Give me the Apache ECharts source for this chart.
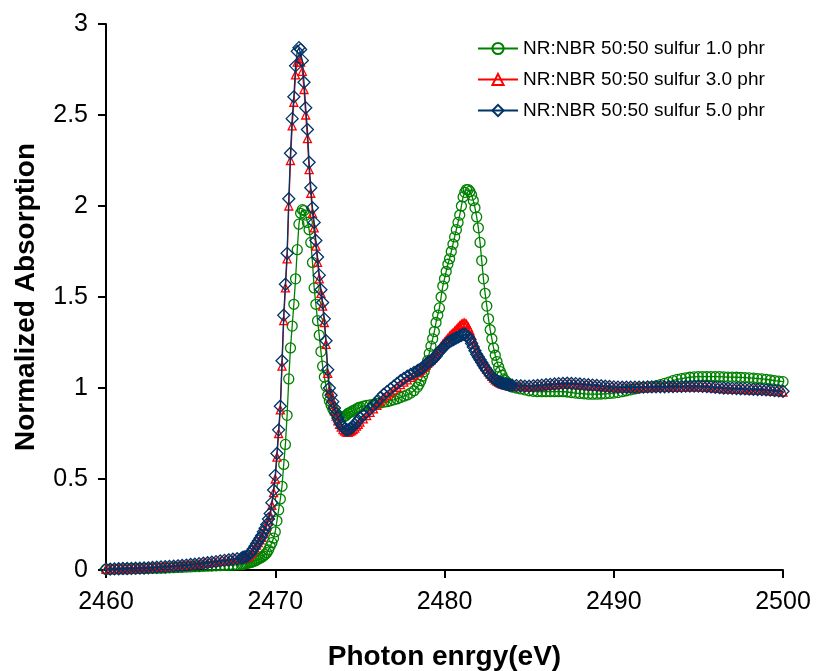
<!DOCTYPE html>
<html><head><meta charset="utf-8">
<script src="https://cdn.jsdelivr.net/npm/echarts@6/dist/echarts.min.js"></script>
<style>html,body{margin:0;padding:0;background:#fff}#chart{width:818px;height:671px}</style>
</head><body><div id="chart"></div>
<script>
// Photon energy grid (eV), pieces with different step sizes
const energyA = [2460,2460.25,2460.5,2460.75,2461,2461.25,2461.5,2461.75,2462,2462.25,2462.5,2462.75,2463,2463.25,2463.5,2463.75,2464,2464.25,2464.5,2464.75,2465,2465.25,2465.5,2465.75,2466,2466.25,2466.5,2466.75,2467,2467.25,2467.5,2467.75];
const energyB = [2468,2468.1,2468.2,2468.3,2468.4,2468.5,2468.6,2468.7,2468.8,2468.9,
  2469,2469.1,2469.2,2469.3,2469.4,2469.5,2469.6,2469.7,2469.8,2469.9,
  2470,2470.1,2470.2,2470.3,2470.4,2470.5,2470.6,2470.7,2470.8,2470.9,
  2471,2471.1,2471.2,2471.3,2471.4,2471.5,2471.6,2471.7,2471.8,2471.9,
  2472,2472.1,2472.2,2472.3,2472.4,2472.5,2472.6,2472.7,2472.8,2472.9,
  2473,2473.1,2473.2,2473.3,2473.4,2473.5,2473.6,2473.7,2473.8,2473.9,
  2474,2474.1,2474.2,2474.3,2474.4,2474.5,2474.6,2474.7,2474.8,2474.9];
const energyC = [2475,2475.2,2475.4,2475.6,2475.8,2476,2476.2,2476.4,2476.6,2476.8,2477,2477.2,2477.4,2477.6,2477.8,2478,2478.2,2478.4];
const energyD = [2478.5,2478.6,2478.7,2478.8,2478.9,2479,2479.1,2479.2,2479.3,2479.4,
  2479.5,2479.6,2479.7,2479.8,2479.9,2480,2480.1,2480.2,2480.3,2480.4,
  2480.5,2480.6,2480.7,2480.8,2480.9,2481,2481.1,2481.2,2481.3,2481.4,
  2481.5,2481.6,2481.7,2481.8,2481.9,2482,2482.1,2482.2,2482.3,2482.4,
  2482.5,2482.6,2482.7,2482.8,2482.9,2483,2483.1,2483.2,2483.3,2483.4,
  2483.5,2483.6,2483.7,2483.8,2483.9,2484];
const energyE = [2484.25,2484.5,2484.75,2485,2485.25,2485.5,2485.75,2486,2486.25,2486.5,
  2486.75,2487,2487.25,2487.5,2487.75,2488,2488.25,2488.5,2488.75,2489,
  2489.25,2489.5,2489.75,2490,2490.25,2490.5,2490.75,2491,2491.25,2491.5,
  2491.75,2492,2492.25,2492.5,2492.75,2493,2493.25,2493.5,2493.75,2494,
  2494.25,2494.5,2494.75,2495,2495.25,2495.5,2495.75,2496,2496.25,2496.5,
  2496.75,2497,2497.25,2497.5,2497.75,2498,2498.25,2498.5,2498.75,2499,
  2499.25,2499.5,2499.75,2500];
const energy = energyA.concat(energyB, energyC, energyD, energyE);

// NR:NBR 50:50 sulfur 1.0 phr
const sulfur1 = [
  0.004,0.004,0.005,0.005,0.006,0.006,0.007,0.007,0.008,0.008,0.009,0.009,0.01,0.01,0.011,0.012,0.013,0.014,0.015,0.016,0.017,0.018,0.019,0.02,0.021,0.022,0.023,0.024,0.025,0.026,0.027,0.028,
  0.03,0.032,0.034,0.036,0.038,0.04,0.043,0.046,0.05,0.055,
  0.06,0.065,0.07,0.077,0.085,0.095,0.11,0.13,0.15,0.175,
  0.21,0.27,0.33,0.39,0.46,0.58,0.69,0.85,1.05,1.22,
  1.34,1.46,1.6,1.76,1.9,1.96,1.98,1.975,1.95,1.91,
  1.87,1.8,1.69,1.55,1.46,1.37,1.29,1.2,1.12,1.06,
  1.01,0.96,0.93,0.905,0.885,0.87,0.86,0.85,0.845,0.84,
  0.84,0.845,0.85,0.86,0.865,0.87,0.875,0.88,0.885,0.89,
  0.895,0.9,0.905,0.907,0.91,0.915,0.918,0.922,0.925,0.93,0.935,0.94,0.948,0.955,0.962,0.972,0.985,1.005,
  1.02,1.04,1.065,1.09,1.12,1.15,1.19,1.23,1.27,1.31,
  1.36,1.4,1.44,1.5,1.56,1.6,1.64,1.68,1.71,1.75,
  1.79,1.83,1.87,1.91,1.95,2.0,2.05,2.075,2.09,2.09,
  2.08,2.06,2.03,1.99,1.94,1.88,1.8,1.7,1.6,1.52,
  1.45,1.38,1.32,1.27,1.22,1.18,1.145,1.115,1.09,1.07,
  1.05,1.04,1.03,1.02,1.01,1.005,
  1.0,0.995,0.99,0.985,0.982,0.98,0.98,0.98,0.98,0.98,
  0.98,0.98,0.978,0.975,0.972,0.97,0.968,0.966,0.966,0.966,
  0.967,0.968,0.97,0.972,0.975,0.98,0.985,0.99,0.995,1.0,
  1.003,1.006,1.008,1.012,1.018,1.025,1.032,1.04,1.047,1.052,
  1.056,1.059,1.061,1.062,1.063,1.063,1.063,1.062,1.062,1.061,
  1.06,1.06,1.059,1.058,1.057,1.056,1.054,1.052,1.05,1.047,
  1.044,1.041,1.038,1.035];

// NR:NBR 50:50 sulfur 3.0 phr
const sulfur3 = [
  0.004,0.005,0.005,0.006,0.007,0.007,0.008,0.009,0.009,0.01,0.011,0.013,0.014,0.016,0.017,0.019,0.02,0.022,0.024,0.026,0.028,0.03,0.033,0.035,0.038,0.041,0.044,0.047,0.05,0.053,0.056,0.058,
  0.06,0.064,0.067,0.07,0.075,0.084,0.094,0.108,0.122,0.137,
  0.15,0.165,0.18,0.2,0.22,0.24,0.27,0.3,0.355,0.425,
  0.5,0.62,0.75,0.88,1.12,1.37,1.55,1.71,2.0,2.25,
  2.44,2.57,2.72,2.79,2.81,2.79,2.74,2.64,2.5,2.37,
  2.2,2.07,1.96,1.88,1.78,1.69,1.6,1.52,1.45,1.36,
  1.24,1.08,0.985,0.945,0.91,0.875,0.845,0.82,0.8,0.785,
  0.772,0.763,0.758,0.757,0.76,0.765,0.772,0.78,0.79,0.8,
  0.812,0.83,0.848,0.866,0.885,0.905,0.925,0.944,0.96,0.975,0.99,1.004,1.018,1.032,1.045,1.058,1.07,1.083,
  1.09,1.098,1.106,1.115,1.125,1.135,1.145,1.155,1.165,1.177,
  1.19,1.203,1.215,1.228,1.24,1.252,1.263,1.274,1.284,1.294,
  1.303,1.312,1.322,1.332,1.342,1.35,1.356,1.357,1.35,1.335,
  1.315,1.29,1.265,1.24,1.215,1.192,1.172,1.153,1.135,1.118,
  1.103,1.089,1.076,1.064,1.054,1.045,1.038,1.032,1.027,1.023,
  1.02,1.017,1.015,1.013,1.011,1.01,
  1.01,1.008,1.006,1.005,1.007,1.009,1.011,1.013,1.015,1.017,
  1.019,1.02,1.021,1.02,1.019,1.017,1.015,1.013,1.011,1.009,
  1.007,1.005,1.003,1.002,1.001,1.0,1.0,1.0,1.0,1.001,
  1.001,1.002,1.002,1.003,1.003,1.003,1.004,1.004,1.005,1.005,
  1.006,1.006,1.006,1.006,1.005,1.004,1.002,1.0,0.998,0.996,
  0.995,0.994,0.993,0.992,0.991,0.99,0.989,0.988,0.987,0.986,
  0.984,0.982,0.98,0.978];

// NR:NBR 50:50 sulfur 5.0 phr
const sulfur5 = [
  0.005,0.005,0.006,0.007,0.008,0.008,0.009,0.01,0.01,0.011,0.012,0.014,0.015,0.017,0.018,0.02,0.021,0.023,0.025,0.027,0.03,0.032,0.035,0.037,0.04,0.043,0.046,0.05,0.053,0.056,0.059,0.062,
  0.065,0.07,0.072,0.075,0.08,0.09,0.1,0.115,0.13,0.145,
  0.16,0.175,0.19,0.21,0.23,0.25,0.28,0.31,0.37,0.44,
  0.52,0.64,0.77,0.9,1.15,1.4,1.57,1.74,2.04,2.29,
  2.48,2.6,2.77,2.85,2.87,2.86,2.8,2.68,2.54,2.42,
  2.24,2.1,1.99,1.91,1.81,1.72,1.62,1.54,1.47,1.38,
  1.26,1.1,1.0,0.96,0.925,0.89,0.86,0.835,0.815,0.8,
  0.785,0.775,0.77,0.77,0.775,0.78,0.79,0.8,0.81,0.822,
  0.835,0.85,0.867,0.885,0.905,0.925,0.945,0.965,0.98,0.995,1.01,1.025,1.04,1.053,1.065,1.075,1.085,1.095,
  1.1,1.105,1.11,1.12,1.13,1.14,1.145,1.15,1.155,1.165,
  1.175,1.19,1.2,1.21,1.22,1.23,1.24,1.25,1.255,1.26,
  1.265,1.27,1.275,1.28,1.285,1.29,1.295,1.295,1.29,1.28,
  1.265,1.245,1.225,1.205,1.185,1.17,1.155,1.14,1.125,1.11,
  1.098,1.085,1.073,1.062,1.053,1.045,1.04,1.035,1.03,1.027,
  1.025,1.022,1.02,1.018,1.016,1.015,
  1.013,1.012,1.01,1.01,1.012,1.014,1.016,1.018,1.02,1.022,
  1.024,1.025,1.026,1.025,1.024,1.022,1.02,1.018,1.016,1.014,
  1.012,1.01,1.008,1.006,1.005,1.004,1.004,1.004,1.004,1.005,
  1.005,1.006,1.006,1.007,1.007,1.007,1.008,1.008,1.009,1.009,
  1.01,1.01,1.01,1.01,1.009,1.008,1.006,1.004,1.002,1.0,
  0.999,0.998,0.997,0.996,0.995,0.994,0.993,0.992,0.991,0.99,
  0.988,0.986,0.984,0.982];

const seriesNames = ['NR:NBR 50:50 sulfur 1.0 phr','NR:NBR 50:50 sulfur 3.0 phr','NR:NBR 50:50 sulfur 5.0 phr'];
const xTicks = {min: 2460, max: 2500, interval: 10};
const yTicks = {min: 0, max: 3, interval: 0.5};

const FONT = '"Liberation Sans", Arial, Helvetica, sans-serif';
function pairs(ys) { return energy.map((e, i) => [e, ys[i]]); }
function mkSeries(name, ys, color, symbol, size, z) {
  return {
    name: name, type: 'line', data: pairs(ys), z: z,
    symbol: symbol, symbolSize: size, showSymbol: true, showAllSymbol: true,
    clip: false, smooth: false, color: color,
    lineStyle: {color: color, width: 1.3},
    itemStyle: {color: 'rgba(255,255,255,0)', borderColor: color, borderWidth: 1.3},
    emphasis: {disabled: true}
  };
}

const chart = echarts.init(document.getElementById('chart'), null, {renderer: 'canvas'});
chart.setOption({
  animation: false,
  backgroundColor: '#ffffff',
  grid: {left: 106, right: 35, top: 24, bottom: 101, containLabel: false, outerBoundsMode: 'none'},
  legend: {
    orient: 'vertical', left: 472, top: 34, itemWidth: 40, itemHeight: 14, itemGap: 12,
    selectedMode: false,
    textStyle: {fontFamily: FONT, fontSize: 19, color: '#000'},
    data: seriesNames
  },
  xAxis: {
    type: 'value', min: xTicks.min, max: xTicks.max, interval: xTicks.interval,
    name: 'Photon enrgy(eV)', nameLocation: 'middle', nameGap: 73,
    nameTextStyle: {fontFamily: FONT, fontSize: 28, fontWeight: 'bold', color: '#000'},
    axisLine: {show: true, onZero: false, lineStyle: {color: '#000', width: 2}},
    axisTick: {show: true, inside: false, length: 8, lineStyle: {color: '#000', width: 2}},
    axisLabel: {fontFamily: FONT, fontSize: 25, color: '#000', margin: 20, formatter: v => String(v)},
    splitLine: {show: false}
  },
  yAxis: {
    type: 'value', min: yTicks.min, max: yTicks.max, interval: yTicks.interval,
    name: 'Normalized Absorption', nameLocation: 'middle', nameGap: 66,
    nameTextStyle: {fontFamily: FONT, fontSize: 28, fontWeight: 'bold', color: '#000'},
    axisLine: {show: true, onZero: false, lineStyle: {color: '#000', width: 2}},
    axisTick: {show: true, inside: false, length: 8, lineStyle: {color: '#000', width: 2}},
    axisLabel: {fontFamily: FONT, fontSize: 25, color: '#000', margin: 18, formatter: v => String(v)},
    splitLine: {show: false}
  },
  series: [
    mkSeries(seriesNames[0], sulfur1, '#008000', 'circle', 10, 2),
    mkSeries(seriesNames[1], sulfur3, '#ff0000', 'triangle', 8, 3),
    mkSeries(seriesNames[2], sulfur5, '#003366', 'diamond', 12, 4)
  ]
});
</script>
</body></html>
